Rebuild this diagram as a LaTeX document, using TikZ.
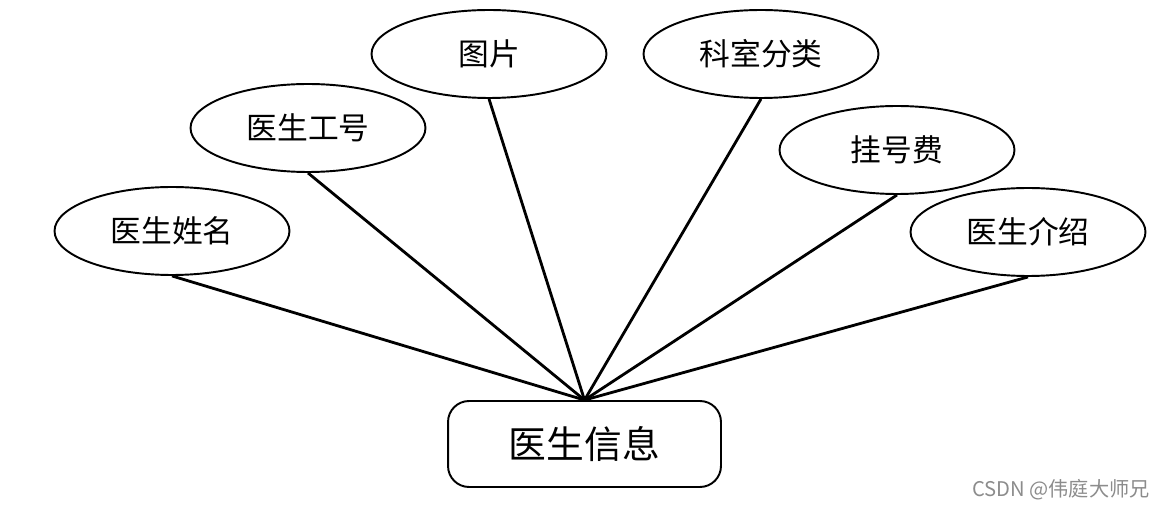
\documentclass[tikz,border=0pt]{standalone}
\usepackage{fontspec}
\newfontfamily\cjk{Noto Sans CJK SC}
\usepackage{tikz}
\usetikzlibrary{shapes.geometric, positioning}

\begin{document}
\begin{tikzpicture}[
  x=0.02cm, y=-0.02cm,
  every node/.style={font=\cjk\fontsize{17.5}{19}\selectfont},
  attr/.style={draw, ellipse, line width=1.1pt, minimum width=4.7cm,
               minimum height=1.76cm, inner sep=0pt, fill=white},
  entity/.style={draw, line width=1.1pt, rounded corners=0.42cm,
                 minimum width=5.46cm, minimum height=1.72cm, fill=white,
                 font=\cjk\fontsize{21.5}{24}\selectfont},
  link/.style={line width=1.6pt},
]
  \useasboundingbox (0,0) rectangle (1165,509);

  % entity
  \node[entity] (info) at (584.5, 444) {医生信息};

  % attributes
  \node[attr] (name)  at (172, 231) {医生姓名};
  \node[attr] (num)   at (308, 128) {医生工号};
  \node[attr] (pic)   at (489, 54)  {图片};
  \node[attr] (dept)  at (761, 54)  {科室分类};
  \node[attr] (fee)   at (897, 150) {挂号费};
  \node[attr] (intro) at (1028, 232) {医生介绍};

  \foreach \a in {name, num, pic, dept, fee, intro}
    \draw[link] (\a.south) -- (info.north);

  % watermark
  \node[font=\cjk\fontsize{11.5}{13}\selectfont, text=black!45, anchor=east,
        inner sep=0pt] (mark) at (1150, 490) {CSDN @伟庭大师兄};
\end{tikzpicture}
\end{document}
